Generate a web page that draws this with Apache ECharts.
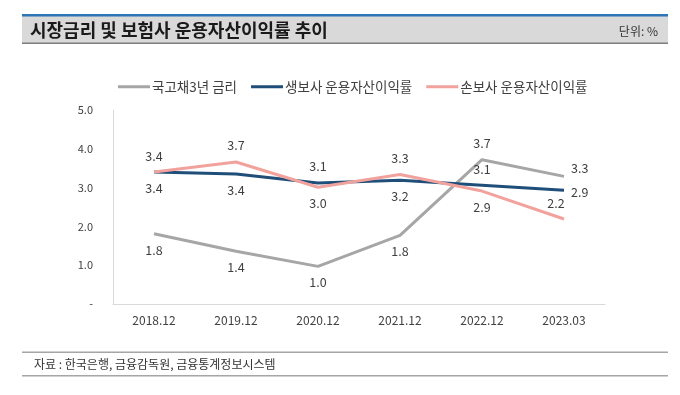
<!DOCTYPE html>
<html><head><meta charset="utf-8">
<script src="https://cdn.jsdelivr.net/npm/echarts@6/dist/echarts.min.js"></script>
<style>html,body{margin:0;padding:0;background:#fff}#c{width:680px;height:395px}</style>
</head><body><div id="c"></div>
<script>
const categories = ['2018.12','2019.12','2020.12','2021.12','2022.12','2023.03'];
const seriesNames = ['국고채3년 금리','생보사 운용자산이익률','손보사 운용자산이익률'];
const govBond3y = [1.81, 1.36, 0.97, 1.77, 3.72, 3.29];
const lifeIns = [3.40, 3.35, 3.12, 3.19, 3.06, 2.93];
const nonLifeIns = [3.40, 3.66, 3.01, 3.34, 2.91, 2.19];
const yTicks = [0, 1, 2, 3, 4, 5];

const FONT = '"Noto Sans CJK KR", "Noto Sans", sans-serif';
const colors = ['#a6a6a6', '#1f4e79', '#f2a29d'];
const labelCfg = [
  ['bottom','bottom','bottom','bottom','top',['right',[-3,-8]]],
  ['bottom','bottom','top','bottom','top',['right',[-3,2]]],
  ['top','top','bottom','top','bottom',['top',[-8,0]]]
];
const values = [govBond3y, lifeIns, nonLifeIns];

function buildData(vals, cfg) {
  return vals.map((v, i) => {
    const c = cfg[i];
    const pos = Array.isArray(c) ? c[0] : c;
    const off = Array.isArray(c) ? c[1] : [0, 0];
    return { value: v, label: { position: pos, offset: off } };
  });
}

const chart = echarts.init(document.getElementById('c'), null, { renderer: 'canvas' });
chart.setOption({
  animation: false,
  textStyle: { fontFamily: FONT },
  graphic: [
    { type: 'rect', shape: { x: 22, y: 16, width: 646, height: 27 }, style: { fill: '#d9d9d9' } },
    { type: 'rect', shape: { x: 22, y: 14, width: 646, height: 2.5 }, style: { fill: '#2e75b6' } },
    { type: 'rect', shape: { x: 22, y: 42.5, width: 646, height: 1.5 }, style: { fill: '#7f7f7f' } },
    { type: 'text', x: 30, y: 30, style: { text: '시장금리 및 보험사 운용자산이익률 추이', font: 'bold 18px ' + FONT, fill: '#1a1a1a', textVerticalAlign: 'middle' } },
    { type: 'text', x: 658, y: 31, style: { text: '단위: %', font: '12px ' + FONT, fill: '#333', textAlign: 'right', textVerticalAlign: 'middle' } },
    { type: 'rect', shape: { x: 22, y: 351.5, width: 646, height: 1.5 }, style: { fill: '#a6a6a6' } },
    { type: 'rect', shape: { x: 22, y: 375, width: 646, height: 1.5 }, style: { fill: '#a6a6a6' } },
    { type: 'text', x: 34, y: 364, style: { text: '자료 : 한국은행, 금융감독원, 금융통계정보시스템', font: '12px ' + FONT, fill: '#333', textVerticalAlign: 'middle' } }
  ],
  legend: {
    left: 113, top: 75,
    itemWidth: 32, itemHeight: 3, itemGap: 14,
    icon: 'rect',
    textStyle: { fontSize: 13.5, color: '#404040', fontFamily: FONT, padding: [0, 0, 0, -3] },
    data: seriesNames
  },
  grid: { left: 113, right: 75, top: 110, bottom: 91, containLabel: false },
  xAxis: {
    type: 'category', data: categories, boundaryGap: true,
    axisLine: { lineStyle: { color: '#d9d9d9', width: 1 } },
    axisTick: { show: false },
    axisLabel: { color: '#404040', fontSize: 12, margin: 10, fontFamily: FONT }
  },
  yAxis: {
    type: 'value', min: yTicks[0], max: yTicks[yTicks.length - 1], interval: 1,
    axisLine: { show: true, lineStyle: { color: '#d9d9d9' } },
    axisTick: { show: false },
    splitLine: { show: false },
    axisLabel: { color: '#404040', fontSize: 11, margin: 20, fontFamily: FONT,
      formatter: v => v === 0 ? '-' : v.toFixed(1) }
  },
  series: values.map((vals, k) => ({
    name: seriesNames[k], type: 'line',
    data: buildData(vals, labelCfg[k]),
    symbol: 'circle', symbolSize: 0, showSymbol: true,
    lineStyle: { color: colors[k], width: 3 },
    itemStyle: { color: colors[k] },
    z: 2 + k,
    label: { show: true, distance: 10, fontSize: 12.5, color: '#404040', fontFamily: FONT,
      formatter: p => p.value.toFixed(1) }
  }))
});
</script></body></html>
